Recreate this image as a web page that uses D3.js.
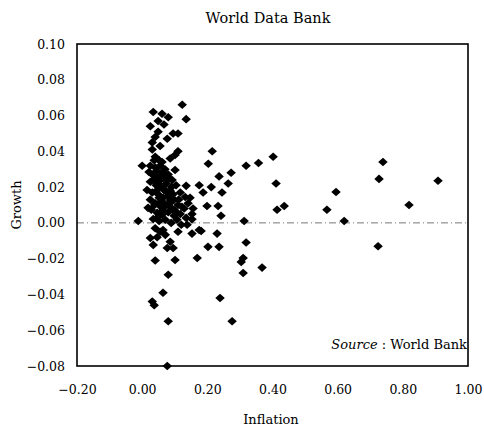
<!DOCTYPE html>
<html>
<head>
<meta charset="utf-8">
<script src="https://cdn.jsdelivr.net/npm/d3@7"></script>
<style>
  body { margin: 0; background: #fff; }
  svg text { font-family: "DejaVu Serif", "Liberation Serif", serif; fill: #000; }
</style>
</head>
<body>
<div id="chart"></div>
<script>
const width = 484;
const height = 428;

// inflation / growth pairs
const inflation = [
  0.123, 0.135, 0.034, 0.061, 0.080, 0.049, 0.025, 0.067, 0.049, 0.110,
  0.095, 0.040, 0.077, 0.031, 0.055, 0.031, 0.040, 0.101, 0.110, 0.052,
  0.086, 0.000, -0.012,
  0.025, 0.040, 0.055, 0.070, 0.031, 0.049, 0.064, 0.080, 0.092, 0.025,
  0.043, 0.058, 0.074, 0.086, 0.104, 0.117, 0.031, 0.049, 0.064, 0.080,
  0.098, 0.132, 0.025, 0.040, 0.055, 0.070, 0.089, 0.110, 0.129, 0.141,
  0.028, 0.046, 0.061, 0.080, 0.098, 0.117, 0.135, 0.034, 0.052, 0.071,
  0.089, 0.107, 0.021, 0.015, 0.018, 0.067, 0.086, 0.104, 0.055, 0.120,
  0.135, 0.061, 0.101, 0.037,
  0.045, 0.060, 0.072, 0.035, 0.050, 0.066, 0.083, 0.095, 0.044, 0.058,
  0.076, 0.090, 0.112, 0.038, 0.052, 0.068, 0.085, 0.100, 0.122, 0.047,
  0.063,
  0.040, 0.055, 0.046, 0.071, 0.064, 0.086, 0.077, 0.095, 0.034, 0.138,
  0.175, 0.153, 0.040, 0.101, 0.080, 0.064, 0.031, 0.037, 0.080, 0.077,
  0.025, 0.110,
  0.215, 0.203, 0.319, 0.357, 0.402, 0.273, 0.236, 0.175, 0.212, 0.264,
  0.245, 0.187, 0.411, 0.147, 0.199, 0.233, 0.242, 0.156, 0.153, 0.153,
  0.313, 0.414, 0.436, 0.567, 0.595, 0.620, 0.739, 0.727, 0.819, 0.908,
  0.724, 0.181, 0.230, 0.202, 0.236, 0.319, 0.169, 0.310, 0.304, 0.310,
  0.368, 0.276, 0.239
];
const growth = [
  0.066, 0.058, 0.062, 0.061, 0.059, 0.057, 0.054, 0.055, 0.051, 0.050,
  0.050, 0.048, 0.047, 0.045, 0.043, 0.041, 0.037, 0.038, 0.040, 0.035,
  0.036, 0.032, 0.001,
  0.032, 0.031, 0.032, 0.030, 0.027, 0.026, 0.025, 0.027, 0.024, 0.023,
  0.021, 0.020, 0.022, 0.018, 0.021, 0.017, 0.017, 0.016, 0.014, 0.015,
  0.013, 0.0145, 0.013, 0.011, 0.0095, 0.0106, 0.0084, 0.010, 0.008, 0.011,
  0.0073, 0.0056, 0.0045, 0.006, 0.004, 0.005, 0.0028, 0.0022, 0.001, 0.0017,
  0.000, 0.0017, 0.0285, 0.0184, 0.0084, 0.0184, 0.0128, 0.006, 0.024, -0.001,
  0.0207, 0.034, 0.0296, 0.035,
  0.029, 0.028, 0.026, 0.024, 0.022, 0.019, 0.025, 0.016, 0.018, 0.012,
  0.017, 0.020, 0.013, 0.010, 0.014, 0.009, 0.011, 0.007, 0.009, 0.003,
  0.007,
  -0.003, -0.005, -0.008, -0.0067, -0.004, -0.0106, -0.014, -0.014, -0.0123, -0.001,
  -0.004, -0.006, -0.021, -0.0207, -0.029, -0.039, -0.044, -0.046, -0.055, -0.080,
  -0.0084, -0.005,
  0.040, 0.033, 0.032, 0.0335, 0.037, 0.028, 0.026, 0.021, 0.020, 0.022,
  0.017, 0.017, 0.022, 0.014, 0.0095, 0.0095, 0.004, 0.008, 0.005, 0.002,
  0.001, 0.0073, 0.0095, 0.0073, 0.0173, 0.001, 0.034, 0.0246, 0.010, 0.0235,
  -0.013, -0.0045, -0.006, -0.0134, -0.0134, -0.011, -0.0196, -0.0196, -0.0218, -0.028,
  -0.025, -0.055, -0.042
];

const xTicks = [-0.2, 0, 0.2, 0.4, 0.6, 0.8, 1.0];
const yTicks = [0.10, 0.08, 0.06, 0.04, 0.02, 0.00, -0.02, -0.04, -0.06, -0.08];

const margin = {top: 44, right: 16, bottom: 62, left: 77};

const x = d3.scaleLinear().domain([-0.2, 1.0]).range([margin.left, width - margin.right]);
const y = d3.scaleLinear().domain([-0.08, 0.10]).range([height - margin.bottom, margin.top]);

const svg = d3.select("#chart").append("svg")
    .attr("width", width)
    .attr("height", height);

// zero line
svg.append("line")
    .attr("x1", x(-0.2)).attr("x2", x(1.0))
    .attr("y1", y(0)).attr("y2", y(0))
    .attr("stroke", "#777")
    .attr("stroke-width", 1)
    .attr("stroke-dasharray", "7,3,1,3");

// frame
svg.append("rect")
    .attr("x", x(-0.2)).attr("y", y(0.10))
    .attr("width", x(1.0) - x(-0.2))
    .attr("height", y(-0.08) - y(0.10))
    .attr("fill", "none")
    .attr("stroke", "#000")
    .attr("stroke-width", 1.6);

const xAxis = svg.append("g")
    .attr("transform", `translate(0,${y(-0.08)})`)
    .call(d3.axisBottom(x).tickValues(xTicks).tickFormat(d3.format(".2f")).tickSize(0).tickPadding(19));
xAxis.select(".domain").remove();
xAxis.attr("font-size", null).attr("font-family", null);
xAxis.selectAll("text").style("font-size", "12.5px");

const yAxis = svg.append("g")
    .attr("transform", `translate(${x(-0.2)},0)`)
    .call(d3.axisLeft(y).tickValues(yTicks).tickFormat(d3.format(".2f")).tickSize(0).tickPadding(12));
yAxis.select(".domain").remove();
yAxis.attr("font-size", null).attr("font-family", null);
yAxis.selectAll("text").style("font-size", "12.5px");

// diamond marker
const diamond = {
  draw(ctx, size) {
    const w = Math.sqrt(size) / 2, h = w * 0.9;
    ctx.moveTo(0, -h); ctx.lineTo(w, 0); ctx.lineTo(0, h); ctx.lineTo(-w, 0); ctx.closePath();
  }
};

const points = inflation.map((d, i) => ({inf: d, gr: growth[i]}));

svg.append("g")
  .selectAll("path")
  .data(points)
  .join("path")
    .attr("transform", d => `translate(${x(d.inf)},${y(d.gr)})`)
    .attr("d", d3.symbol().type(diamond).size(90))
    .attr("fill", "#000");

svg.append("text")
    .attr("x", 268).attr("y", 23)
    .attr("text-anchor", "middle")
    .style("font-size", "14.5px")
    .text("World Data Bank");

svg.append("text")
    .attr("x", 271).attr("y", 424)
    .attr("text-anchor", "middle")
    .style("font-size", "13px")
    .text("Inflation");

svg.append("text")
    .attr("transform", `translate(21,${y(0.01)}) rotate(-90)`)
    .attr("text-anchor", "middle")
    .style("font-size", "13px")
    .text("Growth");

const src = svg.append("text")
    .attr("x", x(1.0) - 1).attr("y", 349)
    .attr("text-anchor", "end")
    .style("font-size", "13px");
src.append("tspan").attr("font-style", "italic").text("Source");
src.append("tspan").text(" : World Bank");
</script>
</body>
</html>
